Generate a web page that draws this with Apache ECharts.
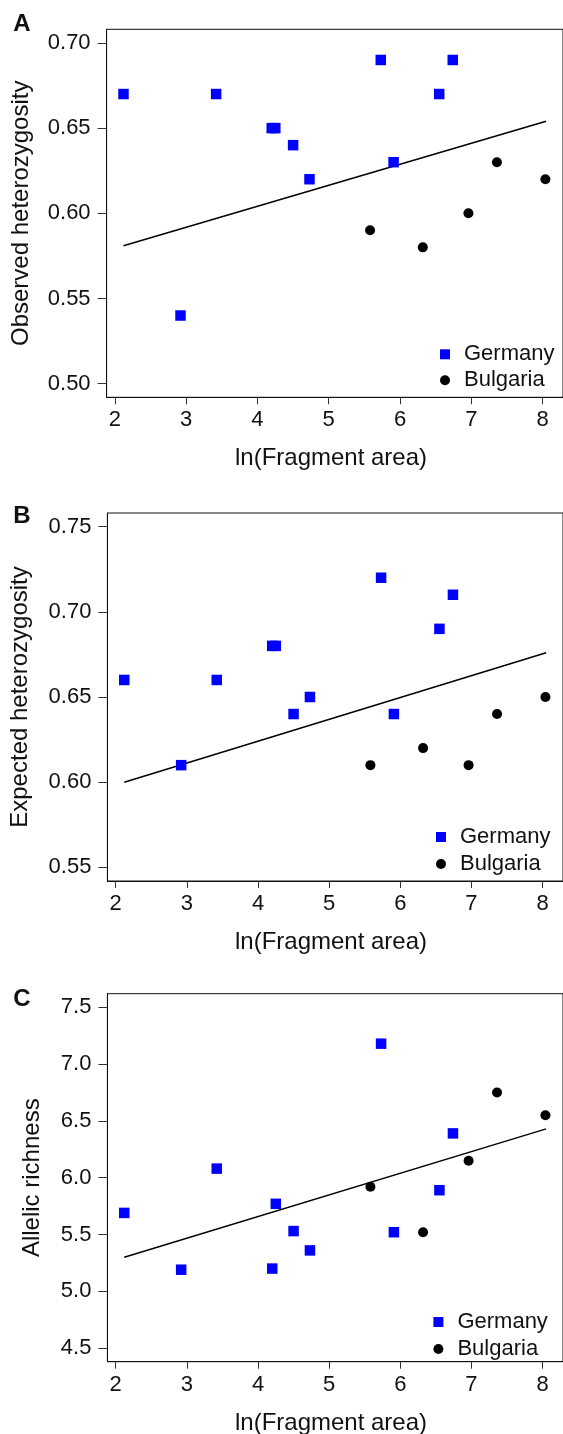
<!DOCTYPE html>
<html>
<head>
<meta charset="utf-8">
<script src="https://cdn.jsdelivr.net/npm/echarts@6/dist/echarts.min.js"></script>
<style>
  html, body { margin: 0; padding: 0; background: #fff; }
  #chart { width: 563px; height: 1434px; }
</style>
</head>
<body>
<div id="chart"></div>
<script>
// ln(Fragment area) for each site
var xGermany = [2.12, 2.92, 3.42, 4.20, 4.25, 4.50, 4.73, 5.73, 5.91, 6.55, 6.74];
var xBulgaria = [5.58, 6.32, 6.96, 7.36, 8.04];

// A: observed heterozygosity
var hoGermany = [0.67, 0.54, 0.67, 0.65, 0.65, 0.64, 0.62, 0.69, 0.63, 0.67, 0.69];
var hoBulgaria = [0.59, 0.58, 0.60, 0.63, 0.62];
// B: expected heterozygosity
var heGermany = [0.66, 0.61, 0.66, 0.68, 0.68, 0.64, 0.65, 0.72, 0.64, 0.69, 0.71];
var heBulgaria = [0.61, 0.62, 0.61, 0.64, 0.65];
// C: allelic richness
var arGermany = [5.69, 5.19, 6.08, 5.20, 5.77, 5.53, 5.36, 7.18, 5.52, 5.89, 6.39];
var arBulgaria = [5.92, 5.52, 6.15, 6.75, 6.55];

// regression lines (ends)
var fitX = [2.12, 8.05];
var fitA = [0.581, 0.654];
var fitB = [0.600, 0.676];
var fitC = [5.30, 6.43];

var xTicks = [2, 3, 4, 5, 6, 7, 8];
var yTicksA = [0.50, 0.55, 0.60, 0.65, 0.70];
var yTicksB = [0.55, 0.60, 0.65, 0.70, 0.75];
var yTicksC = [4.5, 5.0, 5.5, 6.0, 6.5, 7.0, 7.5];

var panelLetters = ['A', 'B', 'C'];
var yNames = ['Observed heterozygosity', 'Expected heterozygosity', 'Allelic richness'];
var xName = 'ln(Fragment area)';

var FONT = '"Liberation Sans", Arial, sans-serif';

function zip(xs, ys) {
    return xs.map(function (x, i) { return [x, ys[i]]; });
}

var panels = [
    { top: 29.3, left: 106.6, g: hoGermany, b: hoBulgaria, fit: fitA, yMin: 0.492, yMax: 0.708, ticks: yTicksA, dec: 2,
      letterY: 24.5, yNameX: 21.5, xNameY: 458, legLeft: 440, legTop: 341.3, legLine: 26 },
    { top: 513, left: 107.4, g: heGermany, b: heBulgaria, fit: fitB, yMin: 0.542, yMax: 0.758, ticks: yTicksB, dec: 2,
      letterY: 516, yNameX: 20.5, xNameY: 942, legLeft: 436, legTop: 823.5, legLine: 27 },
    { top: 993.7, left: 107.4, g: arGermany, b: arBulgaria, fit: fitC, yMin: 4.38, yMax: 7.62, ticks: yTicksC, dec: 1,
      letterY: 999, yNameX: 32, xNameY: 1423, legLeft: 433.4, legTop: 1308.5, legLine: 27 }
];
var H = 368;

var grid = [], xAxis = [], yAxis = [], series = [], legend = [], graphic = [];

panels.forEach(function (p, i) {
    grid.push({
        left: p.left, top: p.top, height: H, width: 565.6 - p.left,
        show: true, borderColor: '#111', borderWidth: 1, backgroundColor: 'transparent'
    });
    xAxis.push({
        type: 'value', gridIndex: i, min: 1.883, max: 8.287,
        axisLine: { show: true, onZero: false, lineStyle: { color: '#111', width: 1 } },
        axisTick: { show: true, length: 7, customValues: xTicks, lineStyle: { color: '#333' } },
        axisLabel: { customValues: xTicks, margin: 12, fontSize: 22, color: '#111', fontFamily: FONT },
        splitLine: { show: false }
    });
    yAxis.push({
        type: 'value', gridIndex: i, min: p.yMin, max: p.yMax,
        axisLine: { show: true, onZero: false, lineStyle: { color: '#111', width: 1 } },
        axisTick: { show: true, length: 9, customValues: p.ticks, lineStyle: { color: '#333' } },
        axisLabel: {
            customValues: p.ticks, margin: 16, fontSize: 22, color: '#111', fontFamily: FONT,
            formatter: (function (d) { return function (v) { return Number(v).toFixed(d); }; })(p.dec)
        },
        splitLine: { show: false }
    });
    series.push({
        type: 'line', name: 'fit', xAxisIndex: i, yAxisIndex: i,
        data: zip(fitX, p.fit), showSymbol: false, symbol: 'none',
        lineStyle: { color: '#000', width: 1.5 }, silent: true, z: 1
    });
    series.push({
        type: 'scatter', name: 'Germany', xAxisIndex: i, yAxisIndex: i,
        data: zip(xGermany, p.g), symbol: 'rect', symbolSize: 10.5,
        itemStyle: { color: '#0000ff', opacity: 1 }, z: 3
    });
    series.push({
        type: 'scatter', name: 'Bulgaria', xAxisIndex: i, yAxisIndex: i,
        data: zip(xBulgaria, p.b), symbol: 'circle', symbolSize: 10,
        itemStyle: { color: '#000', opacity: 1 }, z: 3
    });
    legend.push({
        data: ['Germany', 'Bulgaria'], orient: 'vertical', left: p.legLeft, top: p.legTop,
        padding: 0, itemGap: 0, itemWidth: 10, itemHeight: 10, selectedMode: false,
        textStyle: { fontSize: 22, color: '#111', fontFamily: FONT, lineHeight: p.legLine, padding: [0, 0, 0, 9] }
    });
    graphic.push({
        type: 'text', x: 22, y: p.letterY,
        style: { text: panelLetters[i], font: 'bold 24px ' + FONT, fill: '#111', align: 'center', verticalAlign: 'middle' }
    });
    graphic.push({
        type: 'text', x: p.yNameX, y: p.top + H / 2, rotation: Math.PI / 2,
        style: { text: yNames[i], font: '24px ' + FONT, fill: '#111', align: 'center', verticalAlign: 'middle' }
    });
    graphic.push({
        type: 'text', x: 331, y: p.xNameY,
        style: { text: xName, font: '24px ' + FONT, fill: '#111', align: 'center', verticalAlign: 'middle' }
    });
});

var chart = echarts.init(document.getElementById('chart'), null, { renderer: 'canvas' });
chart.setOption({
    animation: false,
    backgroundColor: '#fff',
    grid: grid,
    xAxis: xAxis,
    yAxis: yAxis,
    legend: legend,
    graphic: graphic,
    series: series
});
</script>
</body>
</html>
